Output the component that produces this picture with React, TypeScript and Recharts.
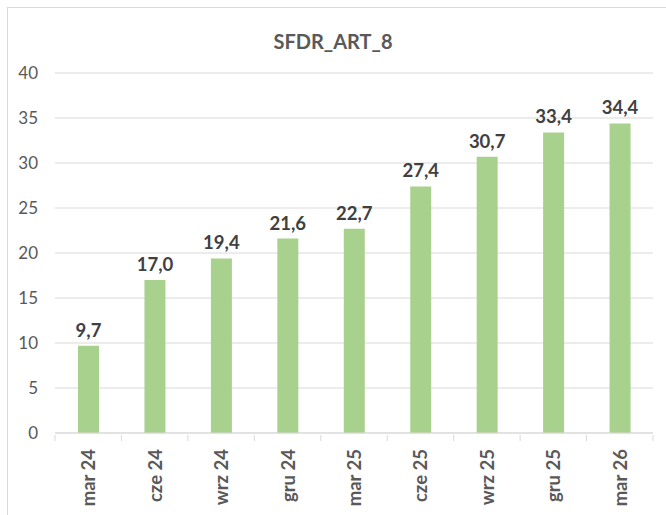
import { Bar, BarChart, CartesianGrid, LabelList, XAxis, YAxis } from 'recharts'

const categories = ['mar 24', 'cze 24', 'wrz 24', 'gru 24', 'mar 25', 'cze 25', 'wrz 25', 'gru 25', 'mar 26']
const values = [9.7, 17.0, 19.4, 21.6, 22.7, 27.4, 30.7, 33.4, 34.4]
const yTicks = [0, 5, 10, 15, 20, 25, 30, 35, 40]

const rows = categories.map((c, i) => ({ name: c, value: values[i] }))

const FONT = 'Lato, "Noto Sans", sans-serif'
const GRID = '#d9d9d9'

const fmt = (v: number) => v.toFixed(1).replace('.', ',')

const XTick = ({ x, y, payload, index }: any) => {
  const half = payload?.offset ?? 33
  return (
    <g>
      <line x1={x - half} x2={x - half} y1={y} y2={y + 6} stroke={GRID} />
      {index === categories.length - 1 && (
        <line x1={x + half} x2={x + half} y1={y} y2={y + 6} stroke={GRID} />
      )}
      <text
        x={x}
        y={y + 14}
        transform={`rotate(-90 ${x} ${y + 14})`}
        textAnchor="end"
        dominantBaseline="central"
        fill="#595959"
        fontSize={18.5}
        fontWeight="bold"
        fontFamily={FONT}
      >
        {payload.value}
      </text>
    </g>
  )
}

export default function App() {
  return (
    <div style={{ position: 'relative', width: 666, height: 515, background: '#fff' }}>
      <style>{'body{margin:0}'}</style>
      <div
        style={{
          position: 'absolute',
          left: 7,
          top: 7,
          width: 670,
          height: 520,
          border: '1px solid #d9d9d9',
          boxSizing: 'border-box',
        }}
      />
      <BarChart
        width={666}
        height={515}
        data={rows}
        margin={{ top: 73, right: 13, bottom: 0, left: 0 }}
        barCategoryGap={0}
        style={{ position: 'absolute', left: 0, top: 0 }}
      >
        <text x={333} y={41} textAnchor="middle" dominantBaseline="central" fill="#595959" fontSize={20} fontWeight="bold" fontFamily={FONT}>
          SFDR_ART_8
        </text>
        <CartesianGrid vertical={false} stroke={GRID} />
        <XAxis
          dataKey="name"
          interval={0}
          axisLine={{ stroke: GRID }}
          tickLine={false}
          tickSize={0}
          height={82}
          tick={<XTick />}
        />
        <YAxis
          domain={[0, 40]}
          ticks={yTicks}
          width={55}
          axisLine={false}
          tickLine={false}
          tickSize={0}
          tickMargin={17}
          tick={{ fill: '#595959', fontSize: 17, fontFamily: FONT }}
        />
        <Bar dataKey="value" fill="#a9d18e" barSize={21} isAnimationActive={false}>
          <LabelList
            dataKey="value"
            position="top"
            offset={9}
            formatter={(v: any) => fmt(Number(v))}
            fill="#404040"
            fontSize={18.5}
            fontWeight="bold"
            fontFamily={FONT}
          />
        </Bar>
      </BarChart>
    </div>
  )
}
